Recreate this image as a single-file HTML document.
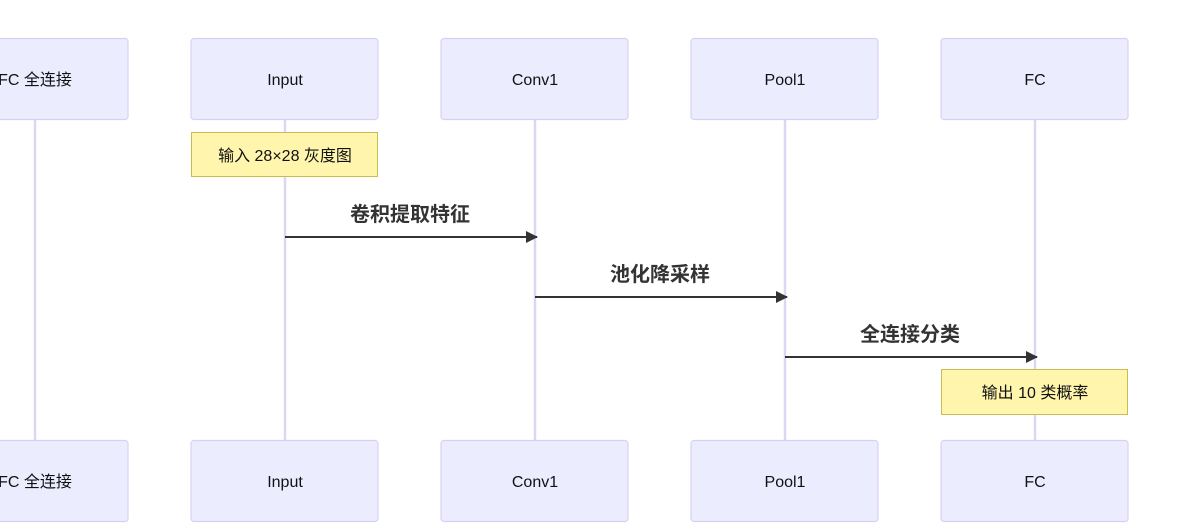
<!DOCTYPE html>
<html><head><meta charset="utf-8"><style>
html,body{margin:0;padding:0;background:#fff;width:1185px;height:530px;overflow:hidden}
text{font-family:"Liberation Sans","Noto Sans CJK SC",sans-serif}
</style></head><body>
<svg width="1185" height="530" xmlns="http://www.w3.org/2000/svg">
<defs><marker id="a" markerWidth="12" markerHeight="12" refX="11" refY="6" orient="auto" markerUnits="userSpaceOnUse"><path d="M0,0 L12,6 L0,12 z" fill="#333"/></marker></defs>
<g stroke="#dcd6f2" stroke-width="2.5">
<line x1="35" y1="119" x2="35" y2="440"/><line x1="285" y1="119" x2="285" y2="440"/><line x1="535" y1="119" x2="535" y2="440"/><line x1="785" y1="119" x2="785" y2="440"/><line x1="1035" y1="119" x2="1035" y2="440"/>
</g>
<g fill="#ececff" stroke="#d8d0f4" stroke-width="1.2">
<rect x="-59" y="38.5" width="187" height="81" rx="3"/><rect x="191" y="38.5" width="187" height="81" rx="3"/><rect x="441" y="38.5" width="187" height="81" rx="3"/><rect x="691" y="38.5" width="187" height="81" rx="3"/><rect x="941" y="38.5" width="187" height="81" rx="3"/>
<rect x="-59" y="440.5" width="187" height="81" rx="3"/><rect x="191" y="440.5" width="187" height="81" rx="3"/><rect x="441" y="440.5" width="187" height="81" rx="3"/><rect x="691" y="440.5" width="187" height="81" rx="3"/><rect x="941" y="440.5" width="187" height="81" rx="3"/>
</g>
<g font-size="16" fill="#111" text-anchor="middle">
<text x="35" y="85">FC 全连接</text><text x="285" y="85">Input</text><text x="535" y="85">Conv1</text><text x="785" y="85">Pool1</text><text x="1035" y="85">FC</text>
<text x="35" y="487">FC 全连接</text><text x="285" y="487">Input</text><text x="535" y="487">Conv1</text><text x="785" y="487">Pool1</text><text x="1035" y="487">FC</text>
</g>
<rect x="191.5" y="132.5" width="186" height="44" fill="#fff5ad" stroke="#c8bd4f"/>
<rect x="941.5" y="369.5" width="186" height="45" fill="#fff5ad" stroke="#c8bd4f"/>
<g font-size="16" fill="#111" text-anchor="middle">
<text x="285" y="161">输入 28×28 灰度图</text><text x="1035" y="398">输出 10 类概率</text>
</g>
<g stroke="#333" stroke-width="2" marker-end="url(#a)">
<line x1="285" y1="237" x2="537" y2="237"/><line x1="535" y1="297" x2="787" y2="297"/><line x1="785" y1="357" x2="1037" y2="357"/>
</g>
<g font-size="20" font-weight="bold" fill="#333" text-anchor="middle">
<text x="410" y="221">卷积提取特征</text><text x="660" y="281">池化降采样</text><text x="910" y="341">全连接分类</text>
</g>
</svg>
</body></html>
